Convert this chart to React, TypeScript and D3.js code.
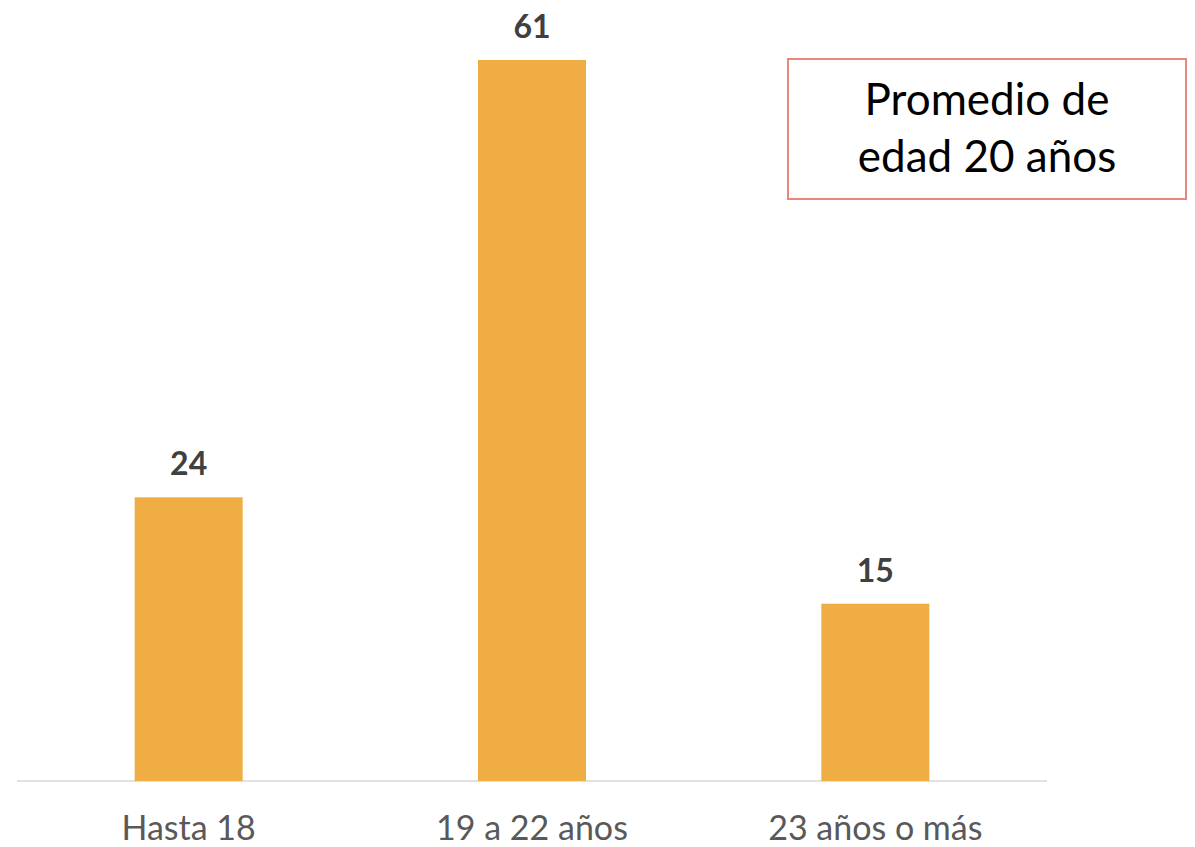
import React from "react";
import * as d3 from "d3";

const categories = ["Hasta 18", "19 a 22 años", "23 años o más"];
const values = [24, 61, 15];
const noteLines = ["Promedio de", "edad 20 años"];

const W = 1195;
const H = 847;
const FONT = "Lato, 'Open Sans', sans-serif";

export default function App() {
  const x = d3
    .scaleBand<string>()
    .domain(categories)
    .range([17, 1047])
    .paddingInner(0.6854)
    .paddingOuter(0.3427);
  const y = d3.scaleLinear().domain([0, 61]).range([781, 60]);

  return (
    <svg
      width={W}
      height={H}
      style={{ position: "absolute", left: 0, top: 0, background: "#fff" }}
      fontFamily={FONT}
    >
      <line x1={17} x2={1047} y1={y(0)} y2={y(0)} stroke="#D9D9D9" strokeWidth={1.5} />
      {categories.map((c, i) => (
        <g key={c}>
          <rect
            x={x(c)!}
            y={y(values[i])}
            width={x.bandwidth()}
            height={y(0) - y(values[i])}
            fill="#EFAD44"
          />
          <text
            x={x(c)! + x.bandwidth() / 2}
            y={y(values[i]) - 22}
            textAnchor="middle"
            fontSize={32}
            fontWeight="bold"
            fill="#404040"
          >
            {values[i]}
          </text>
          <text
            x={x(c)! + x.bandwidth() / 2}
            y={840}
            textAnchor="middle"
            fontSize={34}
            fill="#595959"
          >
            {c}
          </text>
        </g>
      ))}
      <rect x={788} y={59} width={398} height={140} fill="#fff" stroke="#E8887B" strokeWidth={2} />
      {noteLines.map((t, i) => (
        <text key={t} x={987} y={115 + i * 57} textAnchor="middle" fontSize={44} fill="#000">
          {t}
        </text>
      ))}
    </svg>
  );
}
